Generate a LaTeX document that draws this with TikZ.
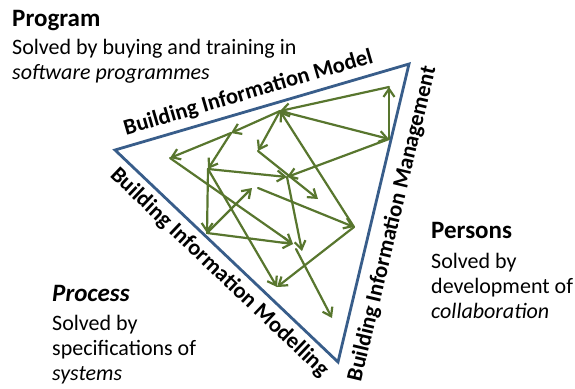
\documentclass[tikz,border=0pt]{standalone}
\usepackage{fontspec}
\setmainfont{Carlito}
\usetikzlibrary{arrows.meta}
\definecolor{triblue}{RGB}{56,93,138}
\definecolor{arrgreen}{RGB}{88,118,46}

\begin{document}
\begin{tikzpicture}[x=1pt,y=-1pt]
	\tikzstyle{tri}=[triblue,draw,line width=2.8pt,line join=miter]
	\tikzstyle{la}=[arrgreen,draw,line width=2.2pt,line cap=round,-{Straight Barb[length=8pt,width=11pt]}]
	\tikzstyle{edgelbl}=[font=\fontsize{22.5}{24}\selectfont\bfseries,sloped]
	\tikzstyle{head}=[font=\fontsize{25}{28}\selectfont\bfseries,anchor=base west,inner sep=0pt]
	\tikzstyle{txt}=[font=\fontsize{22}{25}\selectfont,anchor=base west,align=left,inner sep=0pt]
	\useasboundingbox (0,0) rectangle (575,388);

	%% triangle
	\coordinate (t1) at (115,150);
	\coordinate (t2) at (409,64);
	\coordinate (t3) at (338,362);
	\draw [tri] (t1) -- (t2) -- (t3) -- cycle;
	\path (t1) -- (t2) node [edgelbl,above,inner sep=7pt,pos=0.47] (bimodel) {Building Information Model};
	\path (t1) -- (t3) node [edgelbl,below,inner sep=7pt,pos=0.52] (bimodelling) {Building Information Modelling};
	\path (t3) -- (t2) node [edgelbl,below,inner sep=11pt,pos=0.48] (bimanagement) {Building Information Management};

	%% arrow points
	\coordinate (a) at (280,111);
	\coordinate (b) at (389,87);
	\coordinate (c) at (389,139);
	\coordinate (d) at (231,133);
	\coordinate (e) at (170,158);
	\coordinate (f) at (208,169);
	\coordinate (g) at (258,151);
	\coordinate (h) at (287,177);
	\coordinate (i) at (318,199);
	\coordinate (j) at (252,188);
	\coordinate (jj) at (258,188);
	\coordinate (k) at (207,233);
	\coordinate (l) at (354,227);
	\coordinate (m) at (293,244);
	\coordinate (n) at (302,251);
	\coordinate (o) at (277,287);
	\coordinate (p) at (332,318);
	\coordinate (q) at (296,249);

	%% arrows
	\draw [la] (b) -- (a);
	\draw [la] (a) -- (c);
	\draw [la] (c) -- (b);
	\draw [la] (c) -- (h);
	\draw [la] (a) -- (d);
	\draw [la] (d) -- (e);
	\draw [la] (d) -- (f);
	\draw [la] (a) -- (g);
	\draw [la] (g) -- (i);
	\draw [la] (l) -- (a);
	\draw [la] (f) -- (h);
	\draw [la] (f) -- (k);
	\draw [la] (f) -- (o);
	\draw [la] (e) -- (m);
	\draw [la] (k) -- (m);
	\draw [la] (k) -- (j);
	\draw [la] (jj) -- (l);
	\draw [la] (l) -- (o);
	\draw [la] (h) -- (n);
	\draw [la] (q) -- (p);

	%% texts (base = last line)
	\node [head] (program) at (12,26) {Program};
	\node [txt] (programtxt) at (12,79) {Solved by buying and training in\\\textit{software programmes}};
	\node [head] (process) at (52,301) {\textit{Process}};
	\node [txt] (processtxt) at (52,380) {Solved by\\specifications of\\\textit{systems}};
	\node [head] (persons) at (431,238) {Persons};
	\node [txt] (personstxt) at (431,318) {Solved by\\development of\\\textit{collaboration}};
\end{tikzpicture}
\end{document}
